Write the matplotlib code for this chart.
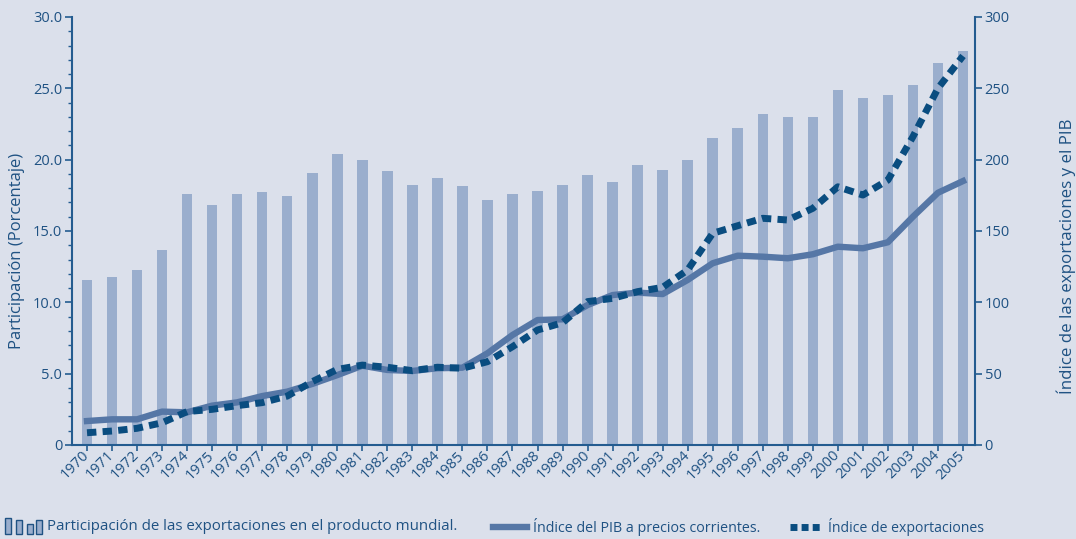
import matplotlib
matplotlib.use("Agg")
import matplotlib.pyplot as plt
from matplotlib.patches import Rectangle
from matplotlib.lines import Line2D
import matplotlib.transforms as mtransforms
import numpy as np

years = [str(y) for y in range(1970, 2006)]
participacion = [11.6, 11.8, 12.3, 13.7, 17.6, 16.8, 17.6, 17.7, 17.45, 19.1,
                 20.4, 20.0, 19.2, 18.2, 18.7, 18.15, 17.2, 17.6, 17.8, 18.2,
                 18.9, 18.4, 19.6, 19.3, 20.0, 21.5, 22.2, 23.2, 23.0, 23.0,
                 24.9, 24.3, 24.5, 25.2, 26.8, 27.6]
indice_pib = [16.8, 18.0, 18.0, 23.4, 22.9, 27.6, 29.9, 34.3, 37.4, 42.8,
              49.0, 55.6, 52.6, 51.9, 53.8, 54.2, 64.3, 77.1, 87.6, 88.1,
              98.1, 105.1, 106.8, 105.8, 115.7, 127.4, 132.7, 132.0, 130.9, 133.7,
              139.0, 137.9, 142.1, 160.0, 176.8, 185.0]
indice_export = [8.6, 9.8, 11.7, 15.6, 23.4, 25.0, 27.6, 29.7, 34.3, 44.4,
                 53.0, 56.0, 54.5, 52.1, 54.5, 53.8, 58.4, 68.9, 80.6, 85.7,
                 100.5, 102.8, 107.5, 110.5, 122.7, 148.4, 153.7, 158.9, 157.7, 165.9,
                 181.0, 175.2, 185.7, 216.1, 250.0, 272.7]

BG = "#dbe0eb"
BAR = "#9aaecd"
GDP = "#5677a6"
EXP = "#0a4d80"
TXT = "#1f5283"
AX = "#245c90"

plt.rcParams['font.family'] = ['Open Sans', 'DejaVu Sans']

fig = plt.figure(figsize=(10.76, 5.39), dpi=100, facecolor=BG)
W, H = 1076, 539
ax = fig.add_axes([72 / W, 1 - 445 / H, (975 - 72) / W, (445 - 17) / H])
ax.set_facecolor(BG)
x = np.arange(len(years))
ax.bar(x, participacion, width=0.42, color=BAR, zorder=1)
ax.set_xlim(-0.6, len(years) - 0.52)
ax.set_ylim(0, 30)
ax.set_yticks([0, 5, 10, 15, 20, 25, 30])
ax.set_yticklabels(["0", "5.0", "10.0", "15.0", "20.0", "25.0", "30.0"])
ax.set_yticks(np.arange(0, 31, 1), minor=True)
ax.set_xticks(x)
ax.set_xticklabels(years, rotation=45, ha="right", va="center", rotation_mode="anchor")
offset = mtransforms.ScaledTranslation(3 / 100, -9 / 100, fig.dpi_scale_trans)
for lab in ax.get_xticklabels():
    lab.set_transform(lab.get_transform() + offset)
for s in ["top", "right"]:
    ax.spines[s].set_visible(False)
for s in ["left", "bottom"]:
    ax.spines[s].set_color(AX)
    ax.spines[s].set_linewidth(1.5)
ax.tick_params(axis="y", which="major", length=5, width=1.2, color=AX, labelcolor=TXT, labelsize=10.5, pad=2)
ax.tick_params(axis="y", which="minor", length=3, width=1.0, color=AX)
ax.tick_params(axis="x", length=4, width=1.2, color=AX, labelcolor=TXT, labelsize=10.5, pad=2)

ax2 = ax.twinx()
ax2.set_ylim(0, 300)
ax2.set_yticks([0, 50, 100, 150, 200, 250, 300])
ax2.plot(x, indice_pib, color=GDP, lw=4.6, solid_joinstyle="round", zorder=3)
ax2.plot(x, indice_export, color=EXP, lw=5.0, dashes=(1.35, 0.9), dash_capstyle="butt", zorder=4)
for s in ["top", "left", "bottom"]:
    ax2.spines[s].set_visible(False)
ax2.spines["right"].set_color(AX)
ax2.spines["right"].set_linewidth(1.5)
ax2.tick_params(axis="y", length=5, width=1.2, color=AX, labelcolor=TXT, labelsize=10.5, pad=2)

fig.text(17 / W, 1 - 251 / H, "Participación (Porcentaje)", rotation=90, ha="center", va="center",
         color=TXT, fontsize=12)
fig.text(1066 / W, 1 - 256 / H, "Índice de las exportaciones y el PIB", rotation=90, ha="center", va="center",
         color=TXT, fontsize=12.2)

# legend
ly = 1 - 527 / H
hs = [16, 14, 10, 14]
xs = [5, 16, 27, 36]
for xx, hh in zip(xs, hs):
    fig.patches.append(Rectangle((xx / W, (539 - 534) / H), 6 / W, hh / H, transform=fig.transFigure,
                                 facecolor=BAR, edgecolor=TXT, lw=1.0))
fig.text(47 / W, ly, "Participación de las exportaciones en el producto mundial.", ha="left", va="center",
         color=TXT, fontsize=10.8)
fig.lines.append(Line2D([493 / W, 527 / W], [ly, ly], transform=fig.transFigure, color=GDP, lw=4.6))
fig.text(533 / W, ly, "Índice del PIB a precios corrientes.", ha="left", va="center", color=TXT, fontsize=10.3)
fig.lines.append(Line2D([790 / W, 821 / W], [ly, ly], transform=fig.transFigure, color=EXP, lw=5.0,
                        dashes=(1.0, 0.6), dash_capstyle="butt"))
fig.text(828 / W, ly, "Índice de exportaciones", ha="left", va="center", color=TXT, fontsize=10.1)

fig.savefig("out.png", dpi=100, facecolor=BG)
